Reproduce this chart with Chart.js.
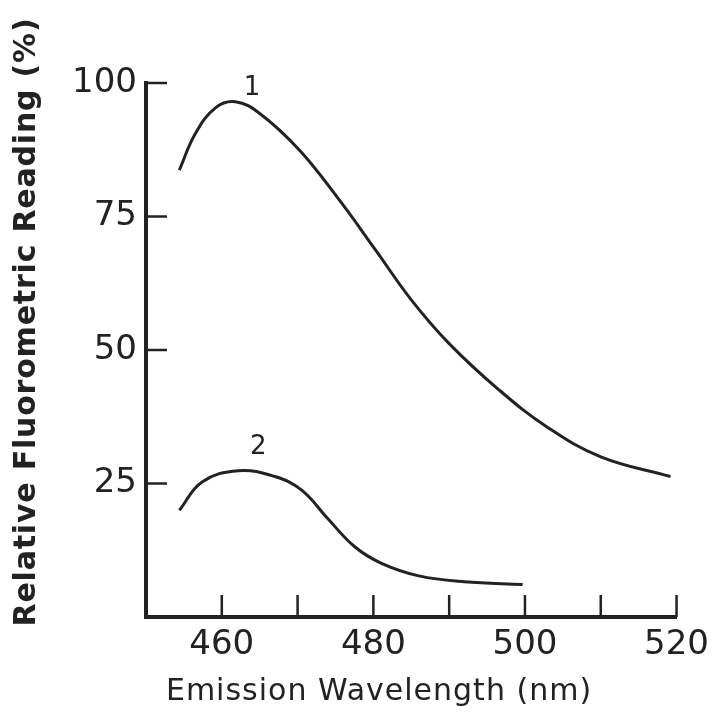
<!DOCTYPE html>
<html>
<head>
<meta charset="utf-8">
<script src="https://cdn.jsdelivr.net/npm/chart.js@4/dist/chart.umd.min.js"></script>
<style>
  body { margin: 0; background: #fff; }
  #wrap { width: 717px; height: 719px; }
</style>
</head>
<body>
<div id="wrap"><canvas id="chart" width="717" height="719"></canvas></div>
<script>
// Values
const curve1Wavelength = [454.4, 456.5, 459.2, 461.8, 465, 470.2, 475.5, 480.3, 485, 490, 496.6, 503, 510, 519.2];
const curve1Reading = [83.7, 90.5, 95.4, 96.5, 94.3, 87.5, 78.1, 68.7, 59.4, 51.2, 42.5, 35.5, 30, 26.3];

const curve2Wavelength = [454.4, 457.4, 462.2, 467, 470.5, 474, 477.5, 481, 486, 492, 499.7];
const curve2Reading = [20, 25.3, 27.4, 26.3, 23.8, 18.4, 13.2, 10.1, 7.7, 6.6, 6.1];

const xLabelValues = [460, 480, 500, 520];
const yLabelValues = [25, 50, 75, 100];

// Curve numbers written on the plot
const curveNames = ["1", "2"];
const curveNameX = [464, 464.8];
const curveNameY = [99.1, 31.8];

const ink = "#222";

function toPoints(xs, ys) {
  return xs.map((x, i) => ({ x: x, y: ys[i] }));
}

// Tick marks point into the plot, axis titles and curve numbers
const extrasPlugin = {
  id: "extras",
  afterDraw(chart) {
    const ctx = chart.ctx;
    const xScale = chart.scales.x;
    const yScale = chart.scales.y;
    const area = chart.chartArea;

    ctx.save();
    ctx.strokeStyle = ink;
    ctx.lineWidth = 2.5;
    xScale.ticks.forEach(t => {
      if (t.value <= xScale.min) return;
      const px = xScale.getPixelForValue(t.value);
      ctx.beginPath();
      ctx.moveTo(px, area.bottom);
      ctx.lineTo(px, area.bottom - 22);
      ctx.stroke();
    });
    yScale.ticks.forEach(t => {
      if (t.value <= yScale.min) return;
      const py = yScale.getPixelForValue(t.value);
      ctx.beginPath();
      ctx.moveTo(area.left, py);
      ctx.lineTo(area.left + 21, py);
      ctx.stroke();
    });

    ctx.fillStyle = ink;
    ctx.font = "26px 'DejaVu Sans'";
    ctx.textAlign = "center";
    ctx.textBaseline = "middle";
    curveNames.forEach((name, i) => {
      ctx.fillText(name, xScale.getPixelForValue(curveNameX[i]), yScale.getPixelForValue(curveNameY[i]));
    });

    // x title, slightly spaced out like the original lettering
    ctx.font = "30px 'DejaVu Sans'";
    ctx.letterSpacing = "1px";
    ctx.fillText("Emission Wavelength (nm)", 379, 692);

    ctx.translate(27, 322);
    ctx.rotate(-Math.PI / 2);
    ctx.font = "bold 30px 'DejaVu Sans'";
    ctx.letterSpacing = "0.8px";
    ctx.fillText("Relative Fluorometric Reading (%)", 0, 0);
    ctx.restore();
  }
};

const ctx = document.getElementById("chart").getContext("2d");

new Chart(ctx, {
  type: "line",
  data: {
    datasets: [
      {
        label: "1",
        data: toPoints(curve1Wavelength, curve1Reading),
        borderColor: ink,
        borderWidth: 3,
        pointRadius: 0,
        tension: 0.4
      },
      {
        label: "2",
        data: toPoints(curve2Wavelength, curve2Reading),
        borderColor: ink,
        borderWidth: 3,
        pointRadius: 0,
        tension: 0.4
      }
    ]
  },
  options: {
    responsive: false,
    animation: false,
    layout: { padding: { top: 83, right: 40, left: 0, bottom: 0 } },
    plugins: {
      legend: { display: false },
      tooltip: { enabled: false }
    },
    scales: {
      x: {
        type: "linear",
        min: 450,
        max: 520,
        grid: { display: false, drawTicks: false },
        border: { display: true, width: 4, color: ink },
        ticks: {
          stepSize: 10,
          padding: 8,
          color: ink,
          font: { family: "'DejaVu Sans'", size: 34 },
          maxRotation: 0,
          autoSkip: false,
          callback: value => xLabelValues.includes(value) ? value : ""
        },
        afterFit: scale => { scale.height = 102; }
      },
      y: {
        min: 0,
        max: 100,
        grid: { display: false, drawTicks: false },
        border: { display: true, width: 4, color: ink },
        ticks: {
          stepSize: 25,
          padding: 9,
          color: ink,
          font: { family: "'DejaVu Sans'", size: 34 },
          callback: value => yLabelValues.includes(value) ? value : ""
        },
        afterFit: scale => { scale.width = 146; }
      }
    }
  },
  plugins: [extrasPlugin]
});
</script>
</body>
</html>
